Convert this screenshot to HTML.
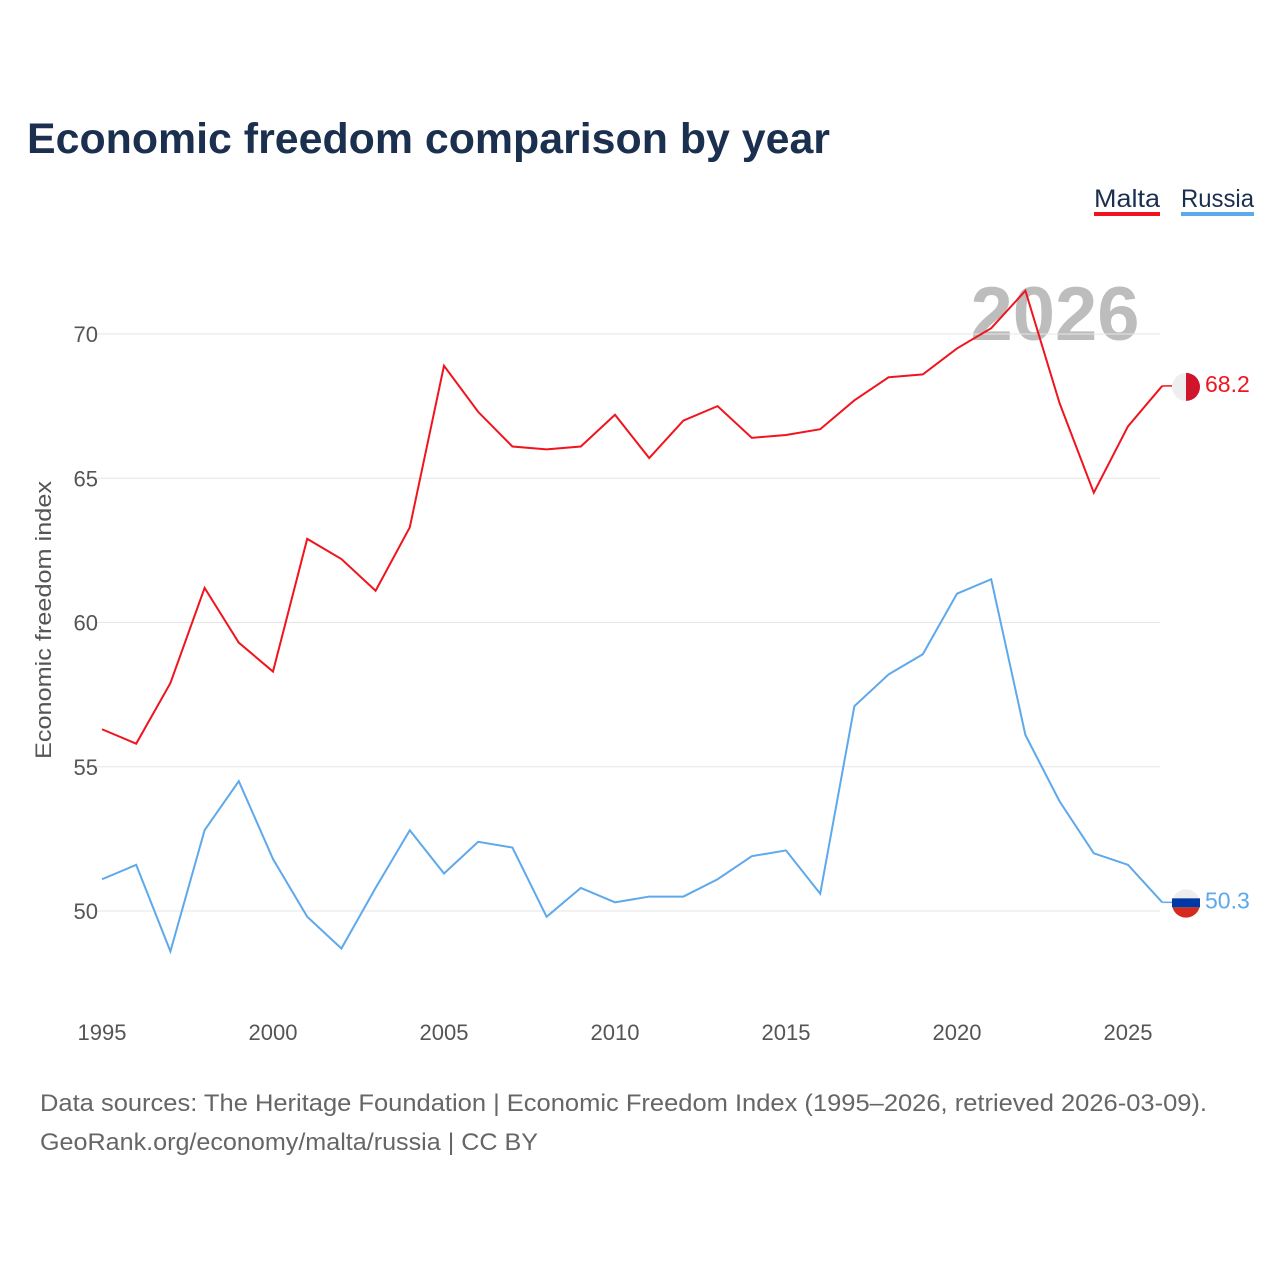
<!DOCTYPE html>
<html><head><meta charset="utf-8"><style>
body{margin:0;background:#fff;}
svg{display:block;font-family:"Liberation Sans",sans-serif;}
</style></head><body>
<svg id="chart" width="1280" height="1280" viewBox="0 0 1280 1280">
<text x="27" y="153" font-size="43" font-weight="bold" fill="#1b2f4f" textLength="803" lengthAdjust="spacingAndGlyphs">Economic freedom comparison by year</text>
<g>
<text x="1094" y="207" font-size="25" fill="#1b2f4f" textLength="66" lengthAdjust="spacingAndGlyphs">Malta</text>
<rect x="1094" y="212" width="66" height="4" fill="#f0141e"/>
<text x="1181" y="207" font-size="25" fill="#1b2f4f" textLength="73" lengthAdjust="spacingAndGlyphs">Russia</text>
<rect x="1181" y="212" width="73" height="4" fill="#5ea8ec"/>
</g>
<text x="1055" y="340" font-size="76" font-weight="bold" fill="#bdbdbd" text-anchor="middle">2026</text>
<g id="grid"></g><g id="axes"></g><g id="series"></g>
<text transform="translate(51,620) rotate(-90)" font-size="22" fill="#555" text-anchor="middle" textLength="278" lengthAdjust="spacingAndGlyphs">Economic freedom index</text>
<text x="40" y="1111" font-size="24" fill="#666" textLength="1167" lengthAdjust="spacingAndGlyphs">Data sources: The Heritage Foundation | Economic Freedom Index (1995–2026, retrieved 2026-03-09).</text>
<text x="40" y="1150" font-size="24" fill="#666" textLength="498" lengthAdjust="spacingAndGlyphs">GeoRank.org/economy/malta/russia | CC BY</text>
</svg>
<script>
const years=[1995,1996,1997,1998,1999,2000,2001,2002,2003,2004,2005,2006,2007,2008,2009,2010,2011,2012,2013,2014,2015,2016,2017,2018,2019,2020,2021,2022,2023,2024,2025,2026];
const malta=[56.3,55.8,57.9,61.2,59.3,58.3,62.9,62.2,61.1,63.3,68.9,67.3,66.1,66.0,66.1,67.2,65.7,67.0,67.5,66.4,66.5,66.7,67.7,68.5,68.6,69.5,70.2,71.5,67.6,64.5,66.8,68.2];
const russia=[51.1,51.6,48.6,52.8,54.5,51.8,49.8,48.7,50.8,52.8,51.3,52.4,52.2,49.8,50.8,50.3,50.5,50.5,51.1,51.9,52.1,50.6,57.1,58.2,58.9,61.0,61.5,56.1,53.8,52.0,51.6,50.3];
const yTicks=[50,55,60,65,70];
const xTicks=[1995,2000,2005,2010,2015,2020,2025];
const NS="http://www.w3.org/2000/svg";
const X=y=>102+(y-1995)*34.2;
const Y=v=>911-(v-50)*28.85;
function mk(t,a,p){const e=document.createElementNS(NS,t);for(const k in a)e.setAttribute(k,a[k]);p.appendChild(e);return e;}
const grid=document.getElementById('grid'),axes=document.getElementById('axes'),ser=document.getElementById('series');
yTicks.forEach(v=>{
 const l=mk('line',{x1:95,x2:1160,y1:Y(v),y2:Y(v),stroke:'#e6e6e6','stroke-width':1},grid);
 
 
 const t=mk('text',{x:98,y:Y(v)+8,'font-size':22,fill:'#555','text-anchor':'end'},axes);
 t.textContent=v;
 
 
});
xTicks.forEach(v=>{
 const t=mk('text',{x:X(v),y:1040,'font-size':22,fill:'#555','text-anchor':'middle'},axes);
 t.textContent=v;
 
 
});
function line(vals,color,name){
 const p=mk('polyline',{points:vals.map((v,i)=>X(years[i])+','+Y(v)).join(' '),fill:'none',stroke:color,'stroke-width':2},ser);
 
 
 const last=vals[vals.length-1],ly=Y(last);
 mk('line',{x1:X(years[years.length-1]),x2:1172,y1:ly,y2:ly,stroke:color,'stroke-width':1.5},ser);
 const c=mk('circle',{cx:1186,cy:ly+1,r:14,fill:'#eee'},ser);
 
 
 if(name==='malta'){mk('path',{d:`M1186 ${ly-13} A14 14 0 0 1 1186 ${ly+15} Z`,fill:'#cf142b'},ser);}
 else{mk('rect',{x:1172,y:ly-4,width:28,height:9,fill:'#0039a6'},ser);mk('path',{d:`M1172.5 ${ly+5} L1199.5 ${ly+5} A14 14 0 0 1 1172.5 ${ly+5} Z`,fill:'#d52b1e'},ser);}
 const t=mk('text',{x:1205,y:ly+6,'font-size':23,fill:color},ser);
 t.textContent=last.toFixed(1);
 
 
}
line(malta,'#f0141e','malta');
line(russia,'#5ea8ec','russia');
</script>
</body></html>
